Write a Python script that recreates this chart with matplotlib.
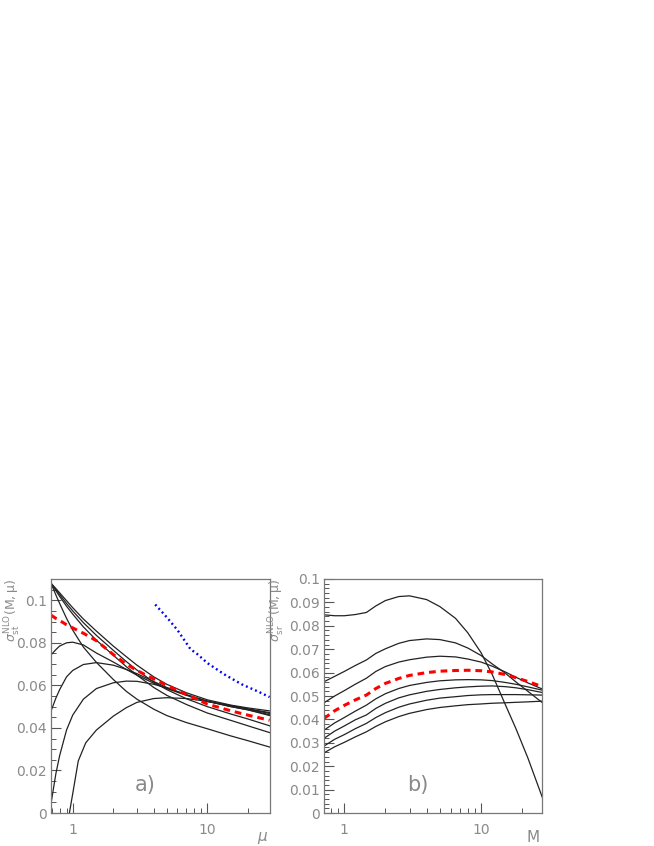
import matplotlib
matplotlib.use("Agg")
import matplotlib.pyplot as plt
from matplotlib.ticker import FixedLocator, LogLocator, MultipleLocator, NullFormatter

# panel a) : sigma vs mu, one curve per mass
mu = [0.69, 0.75, 0.8, 0.9, 1.0, 1.2, 1.5, 2.0, 2.5, 3.0, 4.0, 5.0, 7.0, 10, 15, 20, 29]
a_u1 = [0.108, 0.1055, 0.1035, 0.0998, 0.0965, 0.0912, 0.0855, 0.0785, 0.0735, 0.0695, 0.0640, 0.0605, 0.0565, 0.0532, 0.0507, 0.0494, 0.0480]
a_u2 = [0.108, 0.1050, 0.1027, 0.0985, 0.0950, 0.0895, 0.0835, 0.0765, 0.0712, 0.0672, 0.0615, 0.0580, 0.0537, 0.0500, 0.0465, 0.0442, 0.0410]
a_u3 = [0.108, 0.1045, 0.1018, 0.0972, 0.0935, 0.0875, 0.0812, 0.0742, 0.0688, 0.0648, 0.0590, 0.0553, 0.0510, 0.0470, 0.0435, 0.0410, 0.0378]
a_u4 = [0.108, 0.1025, 0.0985, 0.0915, 0.0860, 0.0780, 0.0708, 0.0628, 0.0572, 0.0535, 0.0488, 0.0458, 0.0425, 0.0396, 0.0362, 0.0340, 0.0310]
a_h1 = [0.0743, 0.0768, 0.0785, 0.0800, 0.0803, 0.0790, 0.0752, 0.0710, 0.0675, 0.0648, 0.0610, 0.0585, 0.0553, 0.0525, 0.0505, 0.0490, 0.0472]
a_h2 = [0.0479, 0.0540, 0.0580, 0.0640, 0.0670, 0.0698, 0.0707, 0.0695, 0.0675, 0.0655, 0.0618, 0.0590, 0.0555, 0.0525, 0.0503, 0.0488, 0.0468]
a_h3 = [0.0044, 0.0185, 0.0270, 0.0390, 0.0460, 0.0535, 0.0585, 0.0612, 0.0620, 0.0619, 0.0605, 0.0588, 0.0556, 0.0525, 0.0500, 0.0485, 0.0462]
mu_h4 = [0.945, 1.0, 1.1, 1.25, 1.5, 2.0, 2.5, 3.0, 4.0, 5.0, 7.0, 10, 15, 20, 29]
a_h4 = [0.0, 0.0090, 0.0245, 0.0330, 0.0390, 0.0455, 0.0495, 0.0520, 0.0538, 0.0542, 0.0538, 0.0525, 0.0500, 0.0485, 0.0458]
a_red = [0.093, 0.0915, 0.0905, 0.0885, 0.0870, 0.0845, 0.0810, 0.0745, 0.0700, 0.0670, 0.0630, 0.0600, 0.0557, 0.0512, 0.0480, 0.0460, 0.0436]
mu_blue = [4.1, 5.0, 6.0, 7.5, 8.5, 10, 13.5, 18, 24, 29]
a_blue = [0.098, 0.092, 0.086, 0.077, 0.0745, 0.0705, 0.065, 0.0605, 0.057, 0.0545]

# panel b) : sigma vs M
m = [0.71, 0.85, 1.0, 1.2, 1.45, 1.7, 2.0, 2.5, 3.0, 4.0, 5.0, 6.5, 8.0, 10, 12, 15, 18, 22, 28]
b_t = [0.0847, 0.0843, 0.0843, 0.0848, 0.0857, 0.0885, 0.0908, 0.0925, 0.0928, 0.0912, 0.0882, 0.0832, 0.0770, 0.0685, 0.0595, 0.0465, 0.0360, 0.0235, 0.0068]
b_s1 = [0.0561, 0.0584, 0.0605, 0.0630, 0.0654, 0.0682, 0.0702, 0.0725, 0.0737, 0.0744, 0.0741, 0.0727, 0.0705, 0.0673, 0.0638, 0.0598, 0.0560, 0.0520, 0.0472]
b_s2 = [0.0471, 0.0500, 0.0523, 0.0550, 0.0576, 0.0605, 0.0626, 0.0645, 0.0655, 0.0666, 0.0670, 0.0667, 0.0658, 0.0645, 0.0628, 0.0603, 0.0580, 0.0556, 0.0530]
b_l1 = [0.0354, 0.0385, 0.0408, 0.0435, 0.0461, 0.0488, 0.0510, 0.0532, 0.0545, 0.0558, 0.0565, 0.0569, 0.0570, 0.0569, 0.0566, 0.0558, 0.0550, 0.0539, 0.0525]
b_l2 = [0.0319, 0.0350, 0.0372, 0.0398, 0.0419, 0.0447, 0.0469, 0.0492, 0.0505, 0.0520, 0.0528, 0.0535, 0.0539, 0.0542, 0.0543, 0.0540, 0.0535, 0.0527, 0.0515]
b_l3 = [0.0286, 0.0315, 0.0335, 0.0360, 0.0383, 0.0408, 0.0429, 0.0452, 0.0466, 0.0482, 0.0491, 0.0497, 0.0502, 0.0505, 0.0506, 0.0506, 0.0506, 0.0505, 0.0504]
b_l4 = [0.0257, 0.0283, 0.0302, 0.0325, 0.0347, 0.0370, 0.0390, 0.0412, 0.0426, 0.0442, 0.0451, 0.0458, 0.0463, 0.0466, 0.0469, 0.0471, 0.0473, 0.0475, 0.0478]
b_red = [0.0404, 0.0437, 0.0460, 0.0483, 0.0504, 0.0532, 0.0554, 0.0575, 0.0588, 0.0600, 0.0606, 0.0609, 0.0610, 0.0608, 0.0603, 0.0592, 0.0578, 0.0562, 0.0540]

txt = "#8a8a8a"
blk = "#222222"
plt.rcParams["font.family"] = "DejaVu Sans"
plt.rcParams["mathtext.fontset"] = "dejavusans"

fig = plt.figure(figsize=(6.54, 8.46), dpi=100)
ax1 = fig.add_axes([51 / 654, 33 / 846, 219 / 654, 234 / 846])
ax2 = fig.add_axes([324 / 654, 33 / 846, 218 / 654, 234 / 846])

for y in [a_u1, a_u2, a_u3, a_u4, a_h1, a_h2, a_h3]:
    ax1.plot(mu, y, color=blk, lw=0.9)
ax1.plot(mu_h4, a_h4, color=blk, lw=0.9)
ax1.plot(mu, a_red, color="red", lw=2.2, ls=(0, (2.2, 1.6)))
ax1.plot(mu_blue, a_blue, color="blue", lw=1.7, ls=(0, (0.8, 1.3)))

for y in [b_t, b_s1, b_s2, b_l1, b_l2, b_l3, b_l4]:
    ax2.plot(m, y, color=blk, lw=0.9)
ax2.plot(m, b_red, color="red", lw=2.2, ls=(0, (2.2, 1.6)))

ax1.set_xlim(0.69, 29.2)
ax1.set_ylim(0, 0.11)
ax2.set_xlim(0.71, 27.9)
ax2.set_ylim(0, 0.1)

ax1.yaxis.set_major_locator(MultipleLocator(0.02))
ax1.yaxis.set_minor_locator(MultipleLocator(0.005))
ax2.yaxis.set_major_locator(MultipleLocator(0.01))
ax2.yaxis.set_minor_locator(MultipleLocator(0.002))

for ax in (ax1, ax2):
    ax.set_xscale("log")
    ax.xaxis.set_major_locator(FixedLocator([1, 10]))
    ax.xaxis.set_minor_locator(LogLocator(base=10, subs=range(2, 10)))
    ax.xaxis.set_minor_formatter(NullFormatter())
    ax.set_xticklabels(["1", "10"])
    ax.yaxis.set_major_formatter(plt.FuncFormatter(lambda v, p: ("%g" % round(v, 3))))
    ax.tick_params(which="both", direction="in", top=False, right=False,
                   color="#555555", labelcolor=txt, labelsize=10)
    ax.tick_params(which="major", length=7, width=0.8)
    ax.tick_params(which="minor", length=3.5, width=0.7)
    ax.tick_params(axis="x", pad=7)
    ax.tick_params(axis="y", pad=3)
    for s in ax.spines.values():
        s.set_color("#777777")
        s.set_linewidth(0.9)

ax1.text(-0.175, 1.0, r"$\sigma^{\rm NLO}_{\rm st}(\rm M,\mu)$", transform=ax1.transAxes,
         rotation=90, ha="center", va="top", color=txt, fontsize=9)
ax2.text(-0.215, 1.0, r"$\sigma^{\rm NLO}_{\rm sr}(\rm M,\mu)$", transform=ax2.transAxes,
         rotation=90, ha="center", va="top", color=txt, fontsize=9)
ax1.text(0.99, -0.105, r"$\mu$", transform=ax1.transAxes, ha="right", va="center",
         color=txt, fontsize=11)
ax2.text(0.99, -0.105, "M", transform=ax2.transAxes, ha="right", va="center",
         color=txt, fontsize=11)
ax1.text(0.43, 0.12, "a)", transform=ax1.transAxes, ha="center", va="center",
         color=txt, fontsize=15)
ax2.text(0.43, 0.12, "b)", transform=ax2.transAxes, ha="center", va="center",
         color=txt, fontsize=15)

fig.savefig("out.png", dpi=100)
